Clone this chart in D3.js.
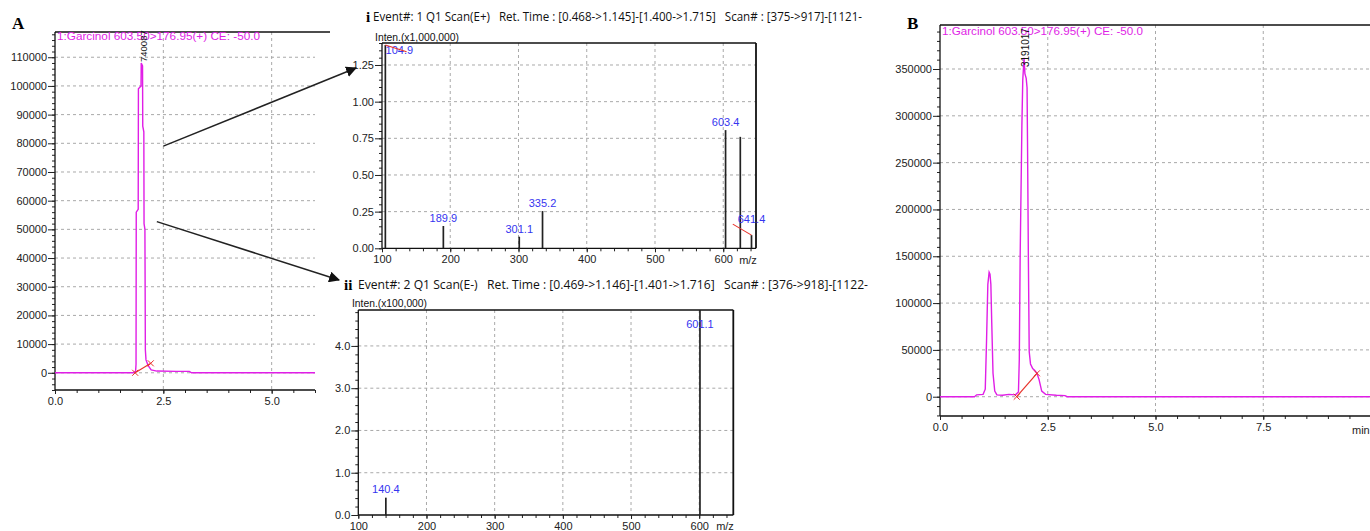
<!DOCTYPE html>
<html>
<head>
<meta charset="utf-8">
<script src="https://cdn.jsdelivr.net/npm/d3@7"></script>
<style>
body { margin: 0; background: #fff; }
svg text { font-family: Arial, "Liberation Sans", sans-serif; }
svg text.serif { font-family: "Liberation Serif", "DejaVu Serif", serif; font-weight: bold; }
.tick text { font-size: 11px; fill: #222; }
.grid line { stroke: #a9a9a9; stroke-width: 1; stroke-dasharray: 3,3; }
.hdr { font-family: "Open Sans", sans-serif; font-size: 12px; fill: #111; white-space: pre; }
</style>
</head>
<body>
<script>

// ---- panel A : MRM chromatogram (standard) ----
var timeA = [0, 1.80, 1.86, 1.87, 1.875, 1.92, 1.925, 1.985, 1.99, 2.02, 2.025, 2.05, 2.055, 2.075, 2.08, 2.085, 2.10, 2.15, 2.22, 2.35, 2.80, 3.10, 3.15, 6.0];
var signalA = [0, 0, 500, 3000, 56000, 57000, 99000, 100000, 108000, 107000, 86000, 84000, 52000, 50000, 30000, 8000, 4500, 2500, 1000, 600, 500, 500, 0, 0];
var yTicksA = [0, 10000, 20000, 30000, 40000, 50000, 60000, 70000, 80000, 90000, 100000, 110000];
var xTicksA = [0, 2.5, 5.0];

// ---- panel B : MRM chromatogram (sample) ----
var timeB = [0, 0.80, 0.85, 1.00, 1.05, 1.08, 1.11, 1.14, 1.16, 1.18, 1.20, 1.23, 1.27, 1.32, 1.45, 1.60, 1.75, 1.82, 1.84, 1.86, 1.90, 1.92, 1.95, 1.97, 2.00, 2.02, 2.03, 2.05, 2.07, 2.10, 2.15, 2.20, 2.25, 2.30, 2.36, 2.45, 2.70, 2.90, 2.95, 10];
var signalB = [0, 0, 2000, 2500, 8000, 60000, 120000, 133000, 131000, 120000, 80000, 25000, 6000, 2000, 1500, 2500, 2000, 5000, 40000, 150000, 290000, 338000, 362000, 345000, 340000, 330000, 275000, 150000, 48000, 35000, 30000, 28000, 25000, 18000, 6000, 2500, 1500, 1200, 0, 0];
var yTicksB = [0, 50000, 100000, 150000, 200000, 250000, 300000, 350000];
var xTicksB = [0, 2.5, 5.0, 7.5];

// ---- inset i : Q1 scan E+ ----
var mzPos = [104.9, 189.9, 301.1, 335.2, 603.4, 625.0, 641.4];
var intenPos = [1.386, 0.152, 0.079, 0.254, 0.806, 0.76, 0.09];
var labelPos = ["104.9", "189.9", "301.1", "335.2", "603.4", "", "641.4"];
var yTicksI = [0, 0.25, 0.50, 0.75, 1.00, 1.25];
var xTicksI = [100, 200, 300, 400, 500, 600];

// ---- inset ii : Q1 scan E- ----
var mzNeg = [140.4, 601.1];
var intenNeg = [0.41, 5.2];
var labelNeg = ["140.4", "601.1"];
var yTicksII = [0, 1.0, 2.0, 3.0, 4.0];
var xTicksII = [100, 200, 300, 400, 500, 600];

var titleText = "1:Garcinol 603.50>176.95(+) CE: -50.0";

var width = 1370, height = 531;
var magenta = "#e01ee6", red = "#e8322a", blue = "#3535f0";

var svg = d3.select("body").append("svg")
    .attr("width", width)
    .attr("height", height);

svg.append("defs").append("marker")
    .attr("id", "arr")
    .attr("viewBox", "0 0 10 10")
    .attr("refX", 9).attr("refY", 5)
    .attr("markerWidth", 11).attr("markerHeight", 11)
    .attr("markerUnits", "userSpaceOnUse")
    .attr("orient", "auto")
  .append("path")
    .attr("d", "M0,0L10,5L0,10z")
    .attr("fill", "#111");

// scales
var xA = d3.scaleLinear().domain([0, 6]).range([55, 315]);
var yA = d3.scaleLinear().domain([-6000, 118800]).range([390, 32]);
var xB = d3.scaleLinear().domain([0, 10]).range([940, 1371]);
var yB = d3.scaleLinear().domain([-20600, 397000]).range([416, 25]);
var xI = d3.scaleLinear().domain([100, 648]).range([382, 756]);
var yI = d3.scaleLinear().domain([0, 1.40]).range([248.3, 43]);
var xII = d3.scaleLinear().domain([100, 650]).range([358.3, 733.3]);
var yII = d3.scaleLinear().domain([0, 4.85]).range([515, 310]).clamp(true);

function panel(x, y, o) {
  var g = svg.append("g");
  var x0 = x.range()[0], x1 = o.right || x.range()[1];
  var yb = y.range()[0], yt = y.range()[1];

  // dashed grid
  var grid = g.append("g").attr("class", "grid");
  grid.selectAll(".gv").data(o.xTicks.filter(function(d) { return x(d) > x0 + 1; }))
    .enter().append("line")
      .attr("x1", function(d) { return x(d); }).attr("x2", function(d) { return x(d); })
      .attr("y1", yt).attr("y2", yb);
  grid.selectAll(".gh").data(o.yTicks.filter(function(d) { return y(d) < yb - 1; }))
    .enter().append("line")
      .attr("x1", x0).attr("x2", x1)
      .attr("y1", function(d) { return y(d); }).attr("y2", function(d) { return y(d); });

  // minor ticks
  g.append("g").attr("transform", "translate(" + x0 + ",0)")
    .call(d3.axisLeft(y).tickValues(o.yMinor).tickSize(3).tickFormat(""))
    .call(function(s) { s.select(".domain").remove(); });
  g.append("g").attr("transform", "translate(0," + yb + ")")
    .call(d3.axisBottom(x).tickValues(o.xMinor).tickSize(3).tickFormat(""))
    .call(function(s) { s.select(".domain").remove(); });

  // major axes
  var ay = g.append("g").attr("transform", "translate(" + x0 + ",0)")
    .call(d3.axisLeft(y).tickValues(o.yTicks).tickSize(7).tickSizeOuter(0).tickPadding(1).tickFormat(o.yFmt));
  ay.select(".domain").attr("d", "M0," + yb + "V" + yt);
  var ax = g.append("g").attr("transform", "translate(0," + yb + ")")
    .call(d3.axisBottom(x).tickValues(o.xTicks).tickSize(4).tickSizeOuter(0).tickPadding(3).tickFormat(o.xFmt));
  ax.select(".domain").attr("d", "M" + x0 + ",0H" + x1);
  g.selectAll(".domain").attr("stroke", "#111").attr("stroke-width", 1.3);
  g.selectAll(".tick line").attr("stroke", "#222");

  // frame
  g.append("line").attr("x1", x0).attr("x2", o.topEnd || x1)
    .attr("y1", yt).attr("y2", yt).attr("stroke", "#111").attr("stroke-width", 1.3);
  if (o.box) {
    g.append("line").attr("x1", x1).attr("x2", x1)
      .attr("y1", yt).attr("y2", yb).attr("stroke", "#111").attr("stroke-width", 1.8);
  }
  return g;
}

function minors(a, b, s) { return d3.range(a, b + s / 2, s); }

// ---------- panel A ----------
var gA = panel(xA, yA, {
  xTicks: xTicksA, yTicks: yTicksA, xFmt: d3.format(".1f"), yFmt: d3.format("d"),
  xMinor: minors(0, 6, 0.5), yMinor: minors(-6000, 118000, 2000), topEnd: 330
});
var chromLine = function(x, y) {
  return d3.line().x(function(d) { return x(d[0]); }).y(function(d) { return y(d[1]); });
};
gA.append("path").datum(d3.zip(timeA, signalA))
  .attr("d", chromLine(xA, yA)).attr("fill", "none")
  .attr("stroke", magenta).attr("stroke-width", 1.4);

// ---------- panel B ----------
var gB = panel(xB, yB, {
  xTicks: xTicksB, yTicks: yTicksB, xFmt: d3.format(".1f"), yFmt: d3.format("d"),
  xMinor: minors(0, 10, 0.5), yMinor: minors(-20000, 390000, 10000), right: 1370
});
gB.append("path").datum(d3.zip(timeB, signalB))
  .attr("d", chromLine(xB, yB)).attr("fill", "none")
  .attr("stroke", magenta).attr("stroke-width", 1.4);

// integration baselines
function integ(g, x, y, t0, v0, t1, v1) {
  g.append("line").attr("x1", x(t0)).attr("y1", y(v0)).attr("x2", x(t1)).attr("y2", y(v1))
    .attr("stroke", red).attr("stroke-width", 1.2);
  [[t0, v0], [t1, v1]].forEach(function(p) {
    var cx = x(p[0]), cy = y(p[1]);
    g.append("path").attr("d", "M" + (cx - 3) + "," + (cy - 3) + "L" + (cx + 3) + "," + (cy + 3) +
        "M" + (cx + 3) + "," + (cy - 3) + "L" + (cx - 3) + "," + (cy + 3))
      .attr("stroke", red).attr("stroke-width", 1);
  });
}
integ(gA, xA, yA, 1.85, 0, 2.21, 3300);
integ(gB, xB, yB, 1.78, 0, 2.25, 25000);

// titles + peak labels
gA.append("text").attr("x", 57).attr("y", 39.5).text(titleText)
  .attr("fill", magenta).attr("font-size", 11).attr("textLength", 203).attr("lengthAdjust", "spacingAndGlyphs");
gB.append("text").attr("x", 942).attr("y", 35).text(titleText)
  .attr("fill", magenta).attr("font-size", 11).attr("textLength", 201).attr("lengthAdjust", "spacingAndGlyphs");

gA.append("text").attr("transform", "translate(" + (xA(1.98) + 6) + "," + 62 + ") rotate(-90)")
  .text("740087").attr("font-size", 9.5).attr("fill", "#111");
gB.append("text").attr("transform", "translate(" + (xB(1.96) + 5) + "," + 67 + ") rotate(-90)")
  .text("3191017").attr("font-size", 10).attr("fill", "#111");

svg.append("text").attr("class", "serif").attr("x", 12).attr("y", 29).text("A").attr("font-size", 17);
svg.append("text").attr("class", "serif").attr("x", 907).attr("y", 29).text("B").attr("font-size", 17);

// ---------- inset i ----------
var gI = panel(xI, yI, {
  xTicks: xTicksI, yTicks: yTicksI, xFmt: d3.format("d"), yFmt: d3.format(".2f"),
  xMinor: minors(100, 640, 20), yMinor: minors(0, 1.40, 0.05), box: true
});
gI.selectAll(".pk").data(d3.zip(mzPos, intenPos)).enter().append("line")
  .attr("x1", function(d) { return xI(d[0]); }).attr("x2", function(d) { return xI(d[0]); })
  .attr("y1", yI(0)).attr("y2", function(d) { return yI(d[1]); })
  .attr("stroke", "#222").attr("stroke-width", 1.7);
var offI = [[14, 9], [0, -4], [0, -4], [0, -4], [0, -4], [0, -4], [0, -12]];
gI.selectAll(".pl").data(d3.zip(mzPos, intenPos, labelPos, offI)).enter().append("text")
  .attr("x", function(d) { return xI(d[0]) + d[3][0]; })
  .attr("y", function(d) { return yI(d[1]) + d[3][1]; })
  .attr("text-anchor", "middle").attr("font-size", 11).attr("fill", blue)
  .text(function(d) { return d[2]; });
gI.append("line").attr("x1", xI(104.9)).attr("y1", yI(1.386)).attr("x2", xI(136)).attr("y2", yI(1.34))
  .attr("stroke", red).attr("stroke-width", 1.1);
gI.append("line").attr("x1", xI(614)).attr("y1", yI(0.165)).attr("x2", xI(641.4)).attr("y2", yI(0.09))
  .attr("stroke", red).attr("stroke-width", 1.1);
gI.append("text").attr("x", 375).attr("y", 41).text("Inten.(x1,000,000)")
  .attr("font-size", 10).attr("fill", "#111").attr("textLength", 84).attr("lengthAdjust", "spacingAndGlyphs");
gI.append("text").attr("x", 748).attr("y", 264).text("m/z").attr("text-anchor", "middle")
  .attr("font-size", 11).attr("fill", "#222");

// ---------- inset ii ----------
var gII = panel(xII, yII, {
  xTicks: xTicksII, yTicks: yTicksII, xFmt: d3.format("d"), yFmt: d3.format(".1f"),
  xMinor: minors(100, 640, 20), yMinor: minors(0, 4.8, 0.2), box: true
});
gII.selectAll(".pk").data(d3.zip(mzNeg, intenNeg)).enter().append("line")
  .attr("x1", function(d) { return xII(d[0]); }).attr("x2", function(d) { return xII(d[0]); })
  .attr("y1", yII(0)).attr("y2", function(d) { return yII(d[1]); })
  .attr("stroke", "#222").attr("stroke-width", 1.7);
var offII = [[0, -5], [0, 18]];
gII.selectAll(".pl").data(d3.zip(mzNeg, intenNeg, labelNeg, offII)).enter().append("text")
  .attr("x", function(d) { return xII(d[0]) + d[3][0]; })
  .attr("y", function(d) { return yII(d[1]) + d[3][1]; })
  .attr("text-anchor", "middle").attr("font-size", 11).attr("fill", blue)
  .text(function(d) { return d[2]; });
gII.append("text").attr("x", 352).attr("y", 307).text("Inten.(x100,000)")
  .attr("font-size", 10).attr("fill", "#111").attr("textLength", 75).attr("lengthAdjust", "spacingAndGlyphs");
gII.append("text").attr("x", 725).attr("y", 530).text("m/z").attr("text-anchor", "middle")
  .attr("font-size", 11).attr("fill", "#222");
gB.append("text").attr("x", 1352).attr("y", 434).text("min")
  .attr("font-size", 11).attr("fill", "#222");

// ---------- inset headers ----------
svg.append("text").attr("class", "serif").attr("x", 366).attr("y", 22).text("i").attr("font-size", 15);
svg.append("text").attr("class", "hdr").attr("x", 373).attr("y", 21)
  .text("Event#: 1 Q1 Scan(E+)   Ret. Time : [0.468->1.145]-[1.400->1.715]   Scan# : [375->917]-[1121-")
  .attr("textLength", 489).attr("lengthAdjust", "spacingAndGlyphs");
svg.append("text").attr("class", "serif").attr("x", 344).attr("y", 290).text("ii").attr("font-size", 15);
svg.append("text").attr("class", "hdr").attr("x", 358).attr("y", 289)
  .text("Event#: 2 Q1 Scan(E-)   Ret. Time : [0.469->1.146]-[1.401->1.716]   Scan# : [376->918]-[1122-")
  .attr("textLength", 510).attr("lengthAdjust", "spacingAndGlyphs");

// ---------- arrows from the peak to the spectra ----------
svg.append("line")
  .attr("x1", xA(2.5)).attr("y1", yA(79000))
  .attr("x2", xI(100) - 26).attr("y2", yI(1.25) + 3)
  .attr("stroke", "#222").attr("stroke-width", 1.5).attr("marker-end", "url(#arr)");
svg.append("line")
  .attr("x1", xA(2.35)).attr("y1", yA(52700))
  .attr("x2", 339).attr("y2", 280)
  .attr("stroke", "#222").attr("stroke-width", 1.5).attr("marker-end", "url(#arr)");

</script>
</body>
</html>
